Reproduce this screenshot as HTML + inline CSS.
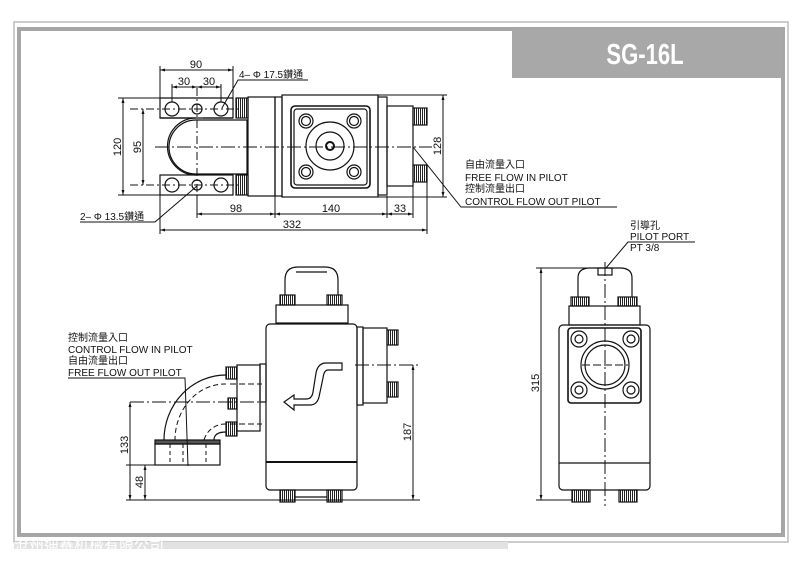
<!DOCTYPE html>
<html><head><meta charset="utf-8"><style>
html,body{margin:0;padding:0;background:#fff;width:807px;height:561px;overflow:hidden}
svg{display:block}
text{font-family:"Liberation Sans","Noto Sans CJK TC",sans-serif;fill:#111}
</style></head><body>
<svg width="807" height="561" viewBox="0 0 807 561" xmlns="http://www.w3.org/2000/svg">
<defs>
<pattern id="kn" width="2" height="4" patternUnits="userSpaceOnUse"><rect width="1" height="4" fill="#222"/></pattern>
<marker id="a" viewBox="0 0 10 10" refX="10" refY="5" markerWidth="5" markerHeight="5" orient="auto-start-reverse"><path d="M0,2 L10,5 L0,8z" fill="#111"/></marker>
</defs>
<rect x="0" y="0" width="807" height="561" fill="#fff"/>
<rect x="14" y="22" width="774" height="520" fill="none" stroke="#bbb" stroke-width="1.5"/>
<rect x="19" y="29" width="764" height="506" fill="none" stroke="#a6a6a6" stroke-width="4"/>
<rect x="14" y="542" width="494" height="7" fill="#e2e2e2"/>
<text x="14" y="550" font-size="15" style="fill:#fff">沧州迪赛机械有限公司</text>
<rect x="512" y="29" width="270" height="49" fill="#a8a8a8"/>
<text transform="translate(645,64) scale(0.85,1.1)" font-size="26" font-weight="bold" text-anchor="middle" style="fill:#fff">SG-16L</text>

<g stroke="#111" stroke-width="1.2" fill="none">
<path d="M160,98 H233 V118 H203 M160,98 V118 H196 A28,28 0 0 0 196,175 M160,118" />
<path d="M196,120 A27,27 0 0 0 196,174 H247 V120 Z"/>
<rect x="160" y="175" width="73" height="20"/>
<line x1="160" y1="118" x2="233" y2="118"/>
<circle cx="172" cy="109" r="7"/><circle cx="197" cy="109" r="5"/><circle cx="221" cy="109" r="7"/>
<circle cx="172" cy="185" r="7"/><circle cx="197" cy="185" r="5"/><circle cx="221" cy="185" r="7"/>
<rect x="236" y="98" width="12" height="20" fill="url(#kn)"/>
<rect x="236" y="175" width="12" height="20" fill="url(#kn)"/>
<rect x="248" y="97" width="27" height="99"/>
<rect x="275" y="97" width="7" height="99"/>
<rect x="282" y="95" width="96" height="102"/>
<rect x="378" y="97" width="9" height="98"/>
<rect x="387" y="106" width="26" height="80"/>
<rect x="413" y="108" width="14" height="17" fill="url(#kn)"/>
<rect x="413" y="165" width="14" height="17" fill="url(#kn)"/>
<rect x="291" y="106" width="79" height="82" rx="4" stroke-width="1.6"/>
<rect x="294" y="109" width="73" height="76" rx="3"/>
<circle cx="306" cy="121" r="7"/><circle cx="306" cy="121" r="4.5"/>
<circle cx="354" cy="121" r="7"/><circle cx="354" cy="121" r="4.5"/>
<circle cx="306" cy="172" r="7"/><circle cx="306" cy="172" r="4.5"/>
<circle cx="354" cy="172" r="7"/><circle cx="354" cy="172" r="4.5"/>
<circle cx="330" cy="146" r="24"/><circle cx="330" cy="146" r="14"/><circle cx="330" cy="146" r="4" stroke-width="2"/>
<g stroke-width="1">
<line x1="155" y1="147" x2="432" y2="147" stroke-dasharray="14,3,2,3"/>
<line x1="197" y1="88" x2="197" y2="210" stroke-dasharray="8,3,2,3"/>
<line x1="130" y1="109" x2="238" y2="109" stroke-dasharray="8,3,2,3"/>
<line x1="130" y1="185" x2="238" y2="185" stroke-dasharray="8,3,2,3"/>
<line x1="160" y1="66" x2="160" y2="98"/><line x1="233" y1="66" x2="233" y2="98"/>
<line x1="160" y1="70" x2="233" y2="70" marker-start="url(#a)" marker-end="url(#a)"/>
<line x1="172" y1="84" x2="172" y2="102"/><line x1="221" y1="84" x2="221" y2="102"/>
<line x1="172" y1="87" x2="197" y2="87" marker-start="url(#a)" marker-end="url(#a)"/>
<line x1="197" y1="87" x2="221" y2="87" marker-start="url(#a)" marker-end="url(#a)"/>
<line x1="118" y1="98" x2="160" y2="98"/><line x1="118" y1="195" x2="160" y2="195"/>
<line x1="123" y1="98" x2="123" y2="195" marker-start="url(#a)" marker-end="url(#a)"/>
<line x1="143" y1="109" x2="143" y2="185" marker-start="url(#a)" marker-end="url(#a)"/>
<line x1="378" y1="95" x2="447" y2="95"/><line x1="378" y1="197" x2="447" y2="197"/>
<line x1="443" y1="95" x2="443" y2="197" marker-start="url(#a)" marker-end="url(#a)"/>
<line x1="197" y1="195" x2="197" y2="218"/><line x1="275" y1="196" x2="275" y2="218"/>
<line x1="387" y1="196" x2="387" y2="218"/><line x1="413" y1="186" x2="413" y2="218"/>
<line x1="160" y1="195" x2="160" y2="234"/><line x1="427" y1="182" x2="427" y2="234"/>
<line x1="197" y1="214" x2="275" y2="214" marker-start="url(#a)" marker-end="url(#a)"/>
<line x1="275" y1="214" x2="387" y2="214" marker-start="url(#a)" marker-end="url(#a)"/>
<line x1="387" y1="214" x2="413" y2="214" marker-start="url(#a)" marker-end="url(#a)"/>
<line x1="160" y1="230" x2="427" y2="230" marker-start="url(#a)" marker-end="url(#a)"/>
<path d="M308,80 H238 L222,108"/>
<path d="M80,222 H155 L197,186"/>
<path d="M413,147 L461,207 H617"/>
</g>

<path d="M285,295 V280 Q285,267 298,267 H325 Q338,267 338,280 V295"/>
<line x1="296" y1="272" x2="327" y2="272"/>
<rect x="280" y="295" width="15" height="10" fill="url(#kn)"/>
<rect x="327" y="295" width="15" height="10" fill="url(#kn)"/>
<rect x="276" y="305" width="72" height="18"/>
<rect x="266" y="324" width="91" height="166" rx="4"/>
<line x1="266" y1="462" x2="357" y2="462" stroke-width="2"/>
<rect x="357" y="327" width="6" height="78"/>
<rect x="363" y="328" width="24" height="75"/>
<rect x="387" y="330" width="11" height="15" fill="url(#kn)"/>
<rect x="387" y="382" width="11" height="15" fill="url(#kn)"/>
<rect x="260" y="364" width="6" height="38"/>
<rect x="237" y="365" width="23" height="66"/>
<rect x="226" y="367" width="11" height="12" fill="url(#kn)"/>
<rect x="228" y="398" width="9" height="11" fill="url(#kn)"/>
<rect x="226" y="422" width="11" height="14" fill="url(#kn)"/>
<path d="M226,375 A62,65 0 0 0 164,440"/>
<path d="M226,432 Q214,432 214,440"/>
<rect x="155" y="440" width="65" height="4" fill="#555"/>
<rect x="155" y="444" width="65" height="21"/>
<path d="M337,363 H342 V370 H328 Q324,370 323,378 L319,397 Q317,405 310,405 H294 V410 L284,402 L294,395 V399 H306 Q312,399 313,392 L316,373 Q318,363 326,363 Z"/>
<rect x="280" y="490" width="15" height="12" fill="url(#kn)"/>
<rect x="327" y="490" width="15" height="12" fill="url(#kn)"/>
<line x1="295" y1="497" x2="327" y2="497"/>
<g stroke-width="1">
<line x1="355" y1="365" x2="418" y2="365" stroke-dasharray="14,3,2,3"/>
<line x1="230" y1="384" x2="262" y2="384" stroke-dasharray="6,3"/>
<line x1="230" y1="424" x2="262" y2="424" stroke-dasharray="6,3"/>
<line x1="130" y1="402" x2="265" y2="402" stroke-dasharray="14,3,2,3"/>
<path d="M226,384 A50,56 0 0 0 175,440" stroke-dasharray="5,3"/>
<path d="M226,424 A22,22 0 0 0 204,440" stroke-dasharray="5,3"/>
<line x1="170" y1="444" x2="170" y2="465" stroke-dasharray="4,3"/>
<line x1="183" y1="444" x2="183" y2="465" stroke-dasharray="4,3"/>
<line x1="206" y1="444" x2="206" y2="465" stroke-dasharray="4,3"/>
<line x1="126" y1="500" x2="420" y2="500"/>
<line x1="126" y1="465" x2="155" y2="465"/>
<line x1="130" y1="402" x2="130" y2="500" marker-start="url(#a)" marker-end="url(#a)"/>
<line x1="145" y1="465" x2="145" y2="500" marker-start="url(#a)" marker-end="url(#a)"/>
<line x1="413" y1="365" x2="413" y2="500" marker-start="url(#a)" marker-end="url(#a)"/>
<path d="M68,378 H185 L188,466"/>
</g>

<path d="M578,297 V278 Q578,268 590,268 H620 Q632,268 632,278 V297"/>
<rect x="598" y="268" width="14" height="7"/>
<rect x="571" y="297" width="18" height="9" fill="url(#kn)"/>
<rect x="618" y="297" width="19" height="9" fill="url(#kn)"/>
<rect x="569" y="306" width="71" height="19"/>
<rect x="559" y="325" width="91" height="165" rx="4"/>
<line x1="559" y1="463" x2="650" y2="463"/>
<rect x="568" y="328" width="73" height="75" rx="3" stroke-width="1.6"/>
<circle cx="579" cy="339" r="8"/><circle cx="579" cy="339" r="4"/>
<circle cx="631" cy="339" r="8"/><circle cx="631" cy="339" r="4"/>
<circle cx="579" cy="390" r="8"/><circle cx="579" cy="390" r="4"/>
<circle cx="631" cy="390" r="8"/><circle cx="631" cy="390" r="4"/>
<circle cx="605" cy="365" r="24"/><circle cx="605" cy="365" r="20"/>
<rect x="572" y="490" width="18" height="12" fill="url(#kn)"/>
<rect x="619" y="490" width="18" height="12" fill="url(#kn)"/>
<g stroke-width="1">
<line x1="605" y1="262" x2="605" y2="506" stroke-dasharray="14,3,2,3"/>
<line x1="582" y1="365" x2="628" y2="365" stroke-dasharray="8,3"/>
<line x1="536" y1="268" x2="598" y2="268"/>
<line x1="536" y1="500" x2="572" y2="500"/>
<line x1="541" y1="268" x2="541" y2="500" marker-start="url(#a)" marker-end="url(#a)"/>
<path d="M695,242 H628 L606,268"/>
</g>
</g>

<g font-size="11">
<text x="196" y="68" text-anchor="middle">90</text>
<text x="184" y="85" text-anchor="middle">30</text>
<text x="209" y="85" text-anchor="middle">30</text>
<text x="239" y="78" font-size="10">4– Φ 17.5鑽通</text>
<text x="80" y="220" font-size="10">2– Φ 13.5鑽通</text>
<text transform="translate(121,147) rotate(-90)" text-anchor="middle">120</text>
<text transform="translate(141,147) rotate(-90)" text-anchor="middle">95</text>
<text transform="translate(441,146) rotate(-90)" text-anchor="middle">128</text>
<text x="236" y="212" text-anchor="middle">98</text>
<text x="331" y="212" text-anchor="middle">140</text>
<text x="400" y="212" text-anchor="middle">33</text>
<text x="292" y="228" text-anchor="middle">332</text>
</g>
<g font-size="10">
<text x="465" y="168">自由流量入口</text>
<text x="465" y="181">FREE FLOW IN PILOT</text>
<text x="465" y="192">控制流量出口</text>
<text x="465" y="205">CONTROL FLOW OUT PILOT</text>
<text x="68" y="341">控制流量入口</text>
<text x="68" y="353">CONTROL FLOW IN PILOT</text>
<text x="68" y="364">自由流量出口</text>
<text x="68" y="376">FREE FLOW OUT PILOT</text>
<text x="630" y="229">引導孔</text>
<text x="630" y="240">PILOT PORT</text>
<text x="630" y="251">PT 3/8</text>
</g>
<g font-size="11">
<text transform="translate(128,445) rotate(-90)" text-anchor="middle">133</text>
<text transform="translate(143,482) rotate(-90)" text-anchor="middle">48</text>
<text transform="translate(411,432) rotate(-90)" text-anchor="middle">187</text>
<text transform="translate(539,383) rotate(-90)" text-anchor="middle">315</text>
</g>
</svg>
</body></html>
